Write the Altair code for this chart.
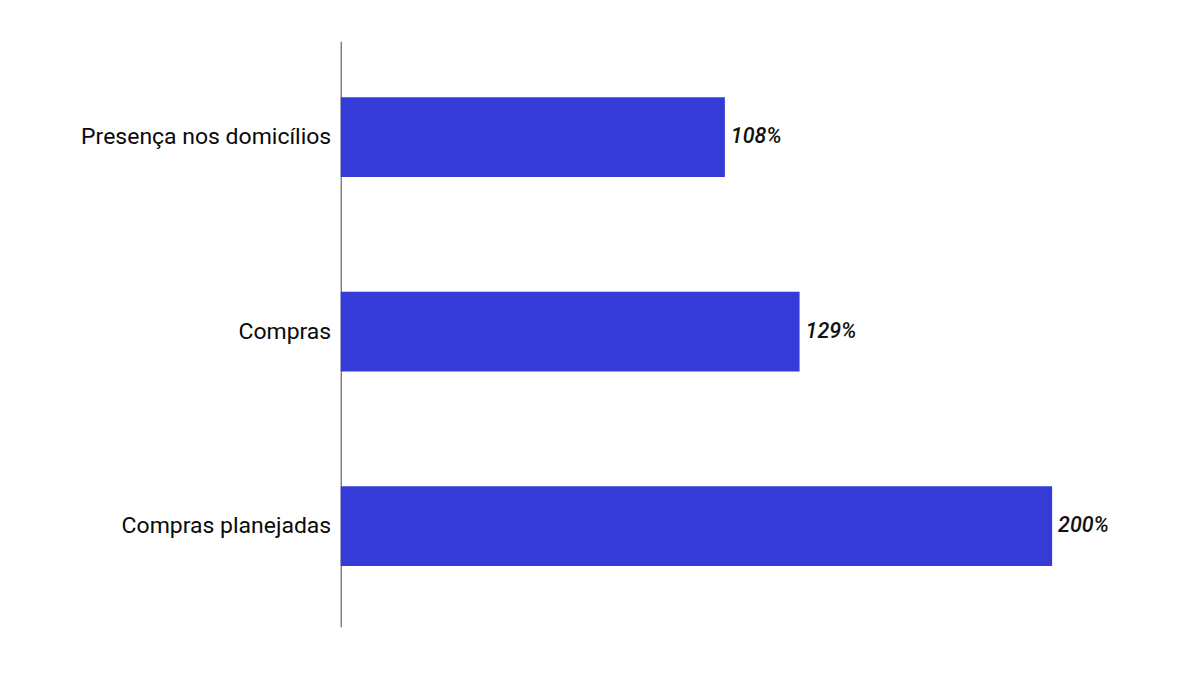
import altair as alt
import pandas as pd

categories = ["Presença nos domicílios", "Compras", "Compras planejadas"]
values = [108, 129, 200]
labels = ["108%", "129%", "200%"]

df = pd.DataFrame({"cat": categories, "val": values, "lab": labels})

y_enc = alt.Y("cat:N", sort=categories, title=None,
              scale=alt.Scale(paddingInner=0.59, paddingOuter=0.3, align=0.48),
              axis=alt.Axis(ticks=False, labelFont="Roboto", labelFontSize=23,
                            labelFontWeight=400, labelLimit=400,
                            labelColor="#0a0a0a", labelPadding=10, domainColor="#444444",
                            domainWidth=1, grid=False))
x_enc = alt.X("val:Q", title=None, scale=alt.Scale(domain=[0, 200], nice=False), axis=None)

bars = alt.Chart(df).mark_bar(color="#343BD6").encode(y=y_enc, x=x_enc)
text = alt.Chart(df).mark_text(align="left", baseline="middle", dx=6, font="Roboto",
                               fontSize=21.5, fontStyle="italic", fontWeight=500,
                               color="#111111").encode(y=y_enc, x=x_enc, text="lab:N")

chart = (bars + text).properties(
    width=712, height=586,
    background="white",
    autosize=alt.AutoSizeParams(type="none"),
    padding={"left": 333, "top": 33, "right": 140, "bottom": 40},
).configure_view(strokeWidth=0, stroke=None)

chart.save("out.html", embed_options={"renderer": "svg", "actions": False})
